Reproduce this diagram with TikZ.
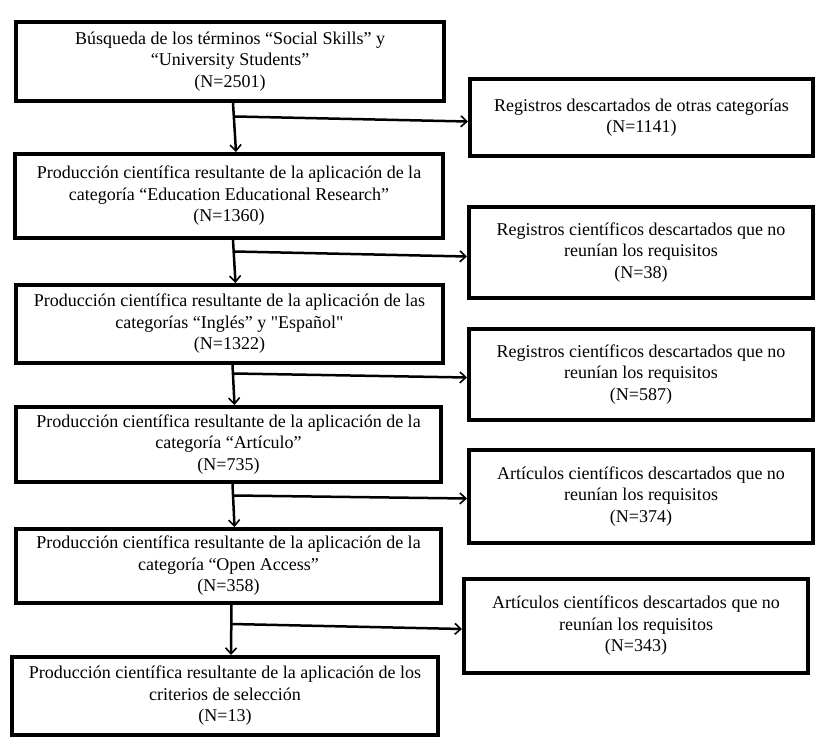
\documentclass[tikz,border=0pt]{standalone}
\usepackage{fontspec}
\setmainfont{Liberation Serif}
\newfontfamily\rawq{Liberation Serif}[Ligatures=TeXOff]
\usetikzlibrary{arrows.meta,calc}
\begin{document}
\begin{tikzpicture}[x=1pt,y=-1pt,
  box/.style={draw, line width=4pt, inner sep=0pt, align=center,
    font=\fontsize{18}{21.5}\selectfont},
  arr/.style={line width=2.5pt, -{Straight Barb[length=6pt,width=11pt,line width=1.6pt]}}]
\useasboundingbox (0,0) rectangle (823,754);
% left column
\node[box, minimum width=428pt, minimum height=79pt] (b1) at (230,61.5)
  {Búsqueda de los términos “Social Skills” y\\“University Students”\\(N=2501)};
\node[box, minimum width=428pt, minimum height=84pt] (b2) at (229,196)
  {Producción científica resultante de la aplicación de la\\categoría “Education Educational Research”\\(N=1360)};
\node[box, minimum width=427pt, minimum height=78pt] (b3) at (229.5,324)
  {Producción científica resultante de la aplicación de las\\categorías “Inglés” y {\rawq"}Español{\rawq"}\\(N=1322)};
\node[box, minimum width=425pt, minimum height=75pt] (b4) at (228.5,444.5)
  {Producción científica resultante de la aplicación de la\\categoría “Artículo”\\(N=735)};
\node[box, minimum width=425pt, minimum height=74pt] (b5) at (228.5,566)
  {Producción científica resultante de la aplicación de la\\categoría “Open Access”\\(N=358)};
\node[box, minimum width=426pt, minimum height=78pt] (b6) at (225,696)
  {Producción científica resultante de la aplicación de los\\criterios de selección\\(N=13)};
% right column
\node[box, minimum width=343pt, minimum height=77pt] (r1) at (641.5,117.5)
  {Registros descartados de otras categorías\\(N=1141)};
\node[box, minimum width=344pt, minimum height=91pt] (r2) at (641,252.5)
  {Registros científicos descartados que no\\reunían los requisitos\\(N=38)};
\node[box, minimum width=344pt, minimum height=91pt] (r3) at (641,374.5)
  {Registros científicos descartados que no\\reunían los requisitos\\(N=587)};
\node[box, minimum width=344pt, minimum height=93pt] (r4) at (641,496.5)
  {Artículos científicos descartados que no\\reunían los requisitos\\(N=374)};
\node[box, minimum width=344pt, minimum height=94pt] (r5) at (636,626)
  {Artículos científicos descartados que no\\reunían los requisitos\\(N=343)};
% vertical connectors
\draw[arr] ($(b1.south)+(3,0)$) -- ($(b2.north)+(7,0)$);
\draw[arr] ($(b2.south)+(4,0)$) -- ($(b3.north)+(6,0)$);
\draw[arr] ($(b3.south)+(3,0)$) -- ($(b4.north)+(6,0)$);
\draw[arr] ($(b4.south)+(4,0)$) -- ($(b5.north)+(6,0)$);
\draw[arr] ($(b5.south)+(3,0)$) -- ($(b6.north)+(6,0)$);
% horizontal connectors
\draw[arr] ($(b1.south |- r1.west)+(5,-1)$) -- ($(r1.west)+(0,4)$);
\draw[arr] ($(b2.south |- r2.west)+(5,-1)$) -- ($(r2.west)+(0,4)$);
\draw[arr] ($(b3.south |- r3.west)+(4,-1)$) -- ($(r3.west)+(0,3)$);
\draw[arr] ($(b4.south |- r4.west)+(5,-1)$) -- ($(r4.west)+(0,2)$);
\draw[arr] ($(b5.south |- r5.west)+(3,-2)$) -- ($(r5.west)+(0,3)$);
\end{tikzpicture}
\end{document}
